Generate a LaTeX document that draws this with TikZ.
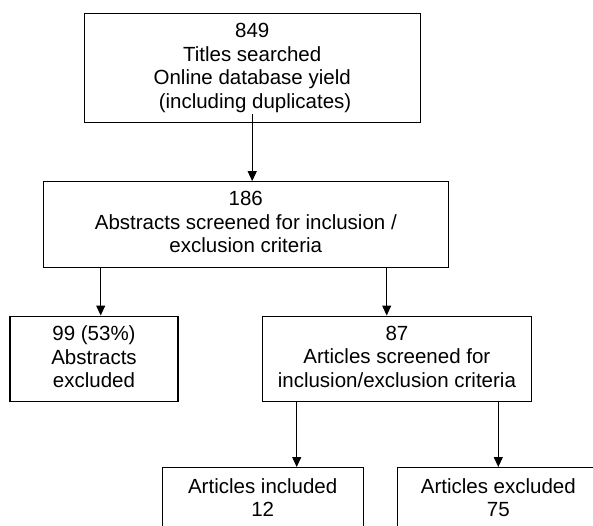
\documentclass[tikz,border=0pt]{standalone}
\usepackage{fontspec}
\setmainfont{Liberation Sans}
\usetikzlibrary{arrows.meta}

% strut with the font's ascent and descent, set on the outer lines of each box
\newcommand{\fstrut}{\rule[-4.35pt]{0pt}{18.5pt}}

\begin{document}
\begin{tikzpicture}[
    x=1pt, y=-1pt,
    box/.style={draw=black, line width=1.1pt, rectangle, inner sep=0pt,
                align=center, font=\fontsize{20.5}{23.5}\selectfont},
    arr/.style={draw=black, line width=1.1pt,
                -{Triangle[length=10pt, width=9pt]}}
  ]
  \useasboundingbox (0,0) rectangle (593,525);
  \clip (0,0) rectangle (593,525);

  % stage boxes
  \node[box, minimum width=336.3pt, minimum height=109.4pt] (titles) at (252.2,68)
    {\fstrut 849\\Titles searched\\Online database yield\\\ (including duplicates)\fstrut};
  \node[box, minimum width=405pt, minimum height=85.6pt] (abstracts) at (245.8,224.5)
    {\fstrut 186\\Abstracts screened for inclusion /\\exclusion criteria\fstrut};
  \node[box, minimum width=168pt, minimum height=85.7pt] (absexcl) at (94,358.9)
    {\fstrut 99 (53\%)\\Abstracts\\excluded\fstrut};
  \node[box, minimum width=268.3pt, minimum height=85.7pt] (articles) at (396.9,358.9)
    {\fstrut 87\\Articles screened for\\inclusion/exclusion criteria\fstrut};
  \node[box, minimum width=201.3pt, minimum height=64.5pt] (included) at (262.7,499.8)
    {\fstrut Articles included\\12\fstrut};
  \node[box, minimum width=202pt, minimum height=64.5pt] (excluded) at (498.3,499.8)
    {\fstrut Articles excluded\\75\fstrut};

  % connectors
  \draw[arr] ([yshift=9.5pt]titles.south) -- (abstracts.north -| titles.south);
  \draw[arr] ([xshift=6.7pt]absexcl.north |- abstracts.south) -- ([xshift=6.7pt]absexcl.north);
  \draw[arr] ([xshift=-10.2pt]articles.north |- abstracts.south) -- ([xshift=-10.2pt]articles.north);
  \draw[arr] ([xshift=34pt]included.north |- articles.south) -- ([xshift=34pt]included.north);
  \draw[arr] (excluded.north |- articles.south) -- (excluded.north);
\end{tikzpicture}
\end{document}
